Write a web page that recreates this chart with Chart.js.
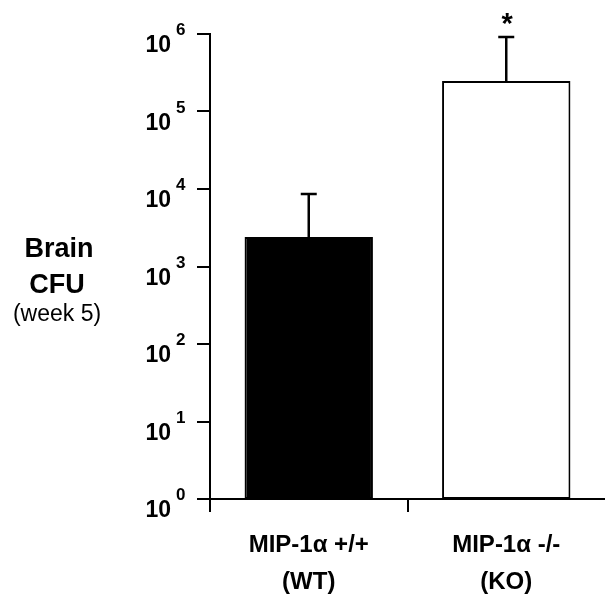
<!DOCTYPE html>
<html>
<head>
<meta charset="utf-8">
<script src="https://cdn.jsdelivr.net/npm/chart.js@4"></script>
<style>
  html, body { margin: 0; padding: 0; background: #fff; }
</style>
</head>
<body>
<canvas id="cfuChart" width="605" height="596"></canvas>
<script>
// data
const groups = [["MIP-1α +/+", "(WT)"], ["MIP-1α -/-", "(KO)"]];
const cfuMeans = [2400, 248000];
const cfuUpper = [8600, 912000];
const barColors = ["#000000", "#ffffff"];
const decadeTicks = [1, 10, 100, 1000, 10000, 100000, 1000000];
const marks = ["", "*"];
const titleLines = ["Brain", "CFU", "(week 5)"];

const FONT = "'Liberation Sans', Arial, Helvetica, sans-serif";

// error bars, asterisk, y tick labels and axis title
const extras = {
  id: 'extras',
  afterDatasetsDraw(chart) {
    const ctx = chart.ctx;
    const y = chart.scales.y;
    const meta = chart.getDatasetMeta(0);
    ctx.save();
    ctx.strokeStyle = '#000';
    ctx.fillStyle = '#000';
    meta.data.forEach((bar, i) => {
      const top = y.getPixelForValue(cfuUpper[i]);
      ctx.lineWidth = 2.5;
      ctx.beginPath();
      ctx.moveTo(bar.x, bar.y);
      ctx.lineTo(bar.x, top);
      ctx.moveTo(bar.x - 8, top);
      ctx.lineTo(bar.x + 8, top);
      ctx.stroke();
      if (marks[i]) {
        ctx.font = 'bold 29px ' + FONT;
        ctx.textAlign = 'center';
        ctx.textBaseline = 'alphabetic';
        ctx.fillText(marks[i], bar.x + 1, top - 4);
      }
    });

    // y tick labels as 10^n
    decadeTicks.forEach(v => {
      const py = y.getPixelForValue(v);
      const exp = String(Math.round(Math.log10(v)));
      ctx.textBaseline = 'alphabetic';
      ctx.font = 'bold 23px ' + FONT;
      ctx.textAlign = 'right';
      ctx.fillText('10', 171, py + 18);
      ctx.font = 'bold 17px ' + FONT;
      ctx.textAlign = 'left';
      ctx.fillText(exp, 176, py + 1);
    });

    // axis title
    ctx.textAlign = 'center';
    ctx.font = 'bold 27px ' + FONT;
    ctx.fillText(titleLines[0], 59, 257);
    ctx.fillText(titleLines[1], 57, 293);
    ctx.font = '23px ' + FONT;
    ctx.fillText(titleLines[2], 57, 321);
    ctx.restore();
  }
};

const tickColor = c => (c.type === 'tick' ? '#000' : 'rgba(0,0,0,0)');

new Chart(document.getElementById('cfuChart'), {
  type: 'bar',
  data: {
    labels: groups,
    datasets: [{
      data: cfuMeans,
      backgroundColor: barColors,
      borderColor: '#000',
      borderWidth: 2,
      borderSkipped: false,
      barPercentage: 0.65,
      categoryPercentage: 1
    }]
  },
  options: {
    responsive: false,
    animation: false,
    devicePixelRatio: 1,
    layout: { padding: { top: 34, right: 0, left: 0, bottom: 0 } },
    plugins: {
      legend: { display: false },
      tooltip: { enabled: false }
    },
    scales: {
      x: {
        grid: { drawOnChartArea: false, tickLength: 13, color: tickColor, lineWidth: 2, offset: true },
        border: { color: '#000', width: 2 },
        ticks: {
          color: '#000',
          padding: 15,
          font: { family: FONT, weight: 'bold', size: 24, lineHeight: 1.54 }
        },
        afterFit: s => { s.height = 97; }
      },
      y: {
        type: 'logarithmic',
        min: 1,
        max: 1000000,
        afterBuildTicks: s => { s.ticks = decadeTicks.map(v => ({ value: v })); },
        ticks: { display: false },
        grid: { drawOnChartArea: false, tickLength: 13, color: tickColor, lineWidth: 2 },
        border: { color: '#000', width: 2 },
        afterFit: s => { s.width = 210; }
      }
    }
  },
  plugins: [extras]
});
</script>
</body>
</html>
